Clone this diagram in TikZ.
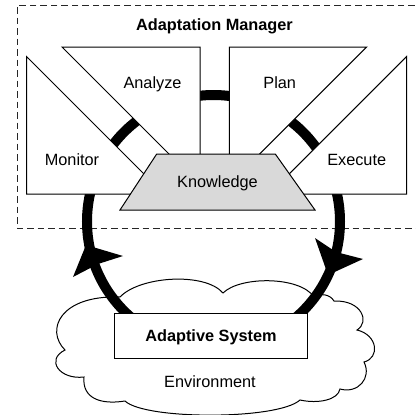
\documentclass[tikz,border=0pt]{standalone}
\usepackage{fontspec}
\setmainfont{Liberation Sans}
\begin{document}
\begin{tikzpicture}[x=1bp,y=-1bp,
  lbl/.style={font=\fontsize{16.3bp}{19bp}\selectfont, inner sep=0pt, anchor=base},
  blbl/.style={font=\fontsize{16.3bp}{19bp}\selectfont\bfseries, inner sep=0pt, anchor=base},
  part/.style={draw=black, line width=1bp, fill=white, line join=miter},
  kpart/.style={part, fill=black!15},
  cloudline/.style={draw=black, line width=1bp, fill=white},
  ring/.style={line width=10bp, draw=black},
  tiphead/.style={fill=black},
  border/.style={dash pattern=on 6.5bp off 4bp, line width=0.9bp, draw=black!85}]
\useasboundingbox (0,0) rectangle (416,415);
% dashed manager border
\draw[border] (425,5) -- (17.5,5) -- (17.5,228.3) -- (425,228.3);
% environment cloud
\draw[cloudline] (120,297)
 .. controls (140,276) and (205,272) .. (223,293)
 .. controls (240,276) and (300,276) .. (314,297)
 .. controls (320,293) and (330,294) .. (334,301)
 .. controls (362,300) and (370,322) .. (357,330)
 .. controls (378,335) and (380,358) .. (364,362)
 .. controls (372,378) and (358,394) .. (340,389)
 .. controls (338,400) and (318,404) .. (300,400)
 .. controls (278,420) and (145,420) .. (125,401)
 .. controls (100,405) and (82,398) .. (84,377)
 .. controls (60,380) and (45,360) .. (65,350)
 .. controls (45,330) and (60,295) .. (120,297) -- cycle;
% feedback ring
\coordinate (c) at (213.5,221.5);
\draw[ring] (c) circle[radius=126.5];
\coordinate (la) at (123,256);
\coordinate (lb) at (98,264);
\coordinate (lc) at (73,277);
\coordinate (lt) at (86,245);
\coordinate (ra) at (315,238);
\coordinate (rb) at (336,252);
\coordinate (rc) at (363,259);
\coordinate (rt) at (328,275);
\fill[tiphead] (la) -- (lb) -- (lc) -- (lt) -- cycle;
\fill[tiphead] (ra) -- (rb) -- (rc) -- (rt) -- cycle;
% MAPE parts
\draw[part] (26.7,56.7) -- (26.7,194) -- (164,194) -- cycle;
\draw[part] (62,47) -- (200,47) -- (200,185) -- cycle;
\draw[part] (229.3,47) -- (366.7,47) -- (229.3,184.4) -- cycle;
\draw[part] (406.7,56.5) -- (406.7,194) -- (269.2,194) -- cycle;
\draw[kpart] (156.7,154) -- (275.3,154) -- (315,210) -- (120,210) -- cycle;
\draw[part] (114.3,313.3) rectangle (307.7,358.3);
% labels
\node[blbl] (title) at (214.5,30) {Adaptation Manager};
\node[lbl] (analyze) at (152.5,88.3) {Analyze};
\node[lbl] (plan) at (279.7,88.3) {Plan};
\node[lbl] (monitor) at (72,165) {Monitor};
\node[lbl] (execute) at (356.7,165) {Execute};
\node[lbl] (knowledge) at (217.5,187.3) {Knowledge};
\node[blbl] (system) at (211,341.7) {Adaptive System};
\node[lbl] (env) at (210,387.7) {Environment};
\end{tikzpicture}
\end{document}
